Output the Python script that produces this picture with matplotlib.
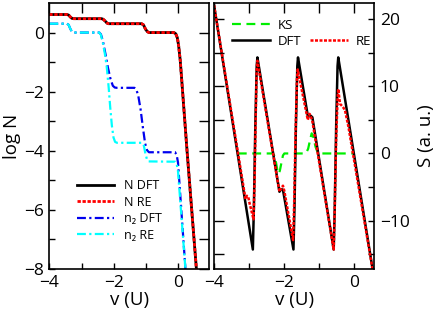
import matplotlib
matplotlib.use("Agg")
import matplotlib.pyplot as plt
from matplotlib.lines import Line2D

plt.rcParams['font.family'] = ['Open Sans', 'DejaVu Sans']

# ---------------- Left panel data: log N vs v (U) ----------------
N_v = [-4.0, -3.45, -3.40, -3.35, -3.30, -3.25, -2.38, -2.33, -2.27, -2.21, -2.16, -1.14,
       -1.08, -1.02, -0.96, -0.91, -0.14, -0.08, -0.03, 0.01, 0.06, 0.27, 0.56, 0.62]
N_dft = [0.61, 0.61, 0.59, 0.53, 0.48, 0.47, 0.47, 0.45, 0.39, 0.32, 0.30, 0.30,
         0.26, 0.12, 0.03, 0.0, 0.0, -0.04, -0.18, -0.45, -0.95, -4.0, -8.0, -8.8]
N_re = N_dft

n2_v_dft = [-4.0, -3.45, -3.40, -3.35, -3.30, -3.25, -2.45, -2.40, -2.34, -2.26, -2.18, -2.10,
            -2.03, -1.97, -1.90, -1.36, -1.30, -1.24, -1.17, -1.10, -1.03, -0.97, -0.91,
            -0.10, -0.05, -0.01, 0.22, 0.26]
n2_dft = [0.30, 0.30, 0.26, 0.13, 0.03, 0.0, 0.0, -0.06, -0.28, -0.72, -1.20, -1.58,
          -1.80, -1.86, -1.87, -1.87, -1.93, -2.15, -2.60, -3.20, -3.75, -3.98, -4.05,
          -4.05, -4.15, -4.40, -8.0, -8.6]

n2_v_re = [-4.0, -3.45, -3.40, -3.35, -3.30, -3.25, -2.45, -2.40, -2.34, -2.28, -2.22, -2.16,
           -2.11, -2.06, -2.01, -1.96, -1.90, -1.12, -1.07, -1.02, -0.97, -0.92,
           -0.10, -0.05, -0.01, 0.22, 0.26]
n2_re = [0.30, 0.30, 0.26, 0.13, 0.03, 0.0, 0.0, -0.08, -0.35, -0.70, -1.15, -1.85,
         -2.55, -3.15, -3.55, -3.70, -3.73, -3.73, -3.82, -4.10, -4.30, -4.36,
         -4.37, -4.45, -4.70, -8.0, -8.6]

# ---------------- Right panel data: S (a. u.) vs v (U) ----------------
S_v_dft = [-4.0, -2.89, -2.86, -2.82, -2.78, -2.76, -2.13, -2.08, -2.03, -1.73, -1.70, -1.66,
           -1.62, -1.60, -1.32, -1.26, -1.19, -0.58, -0.55, -0.51, -0.47, -0.45, 0.60]
S_dft = [22.1, -14.3, -8.0, 4.0, 13.0, 14.3, -5.7, -5.3, -5.4, -14.3, -8.0, 4.0,
         13.0, 14.3, 5.6, 5.7, 5.4, -14.3, -8.0, 4.0, 13.0, 14.3, -19.4]

S_v_re = [-4.0, -3.10, -3.06, -3.02, -2.98, -2.87, -2.84, -2.81, -2.78, -2.76, -2.13, -2.08,
          -2.03, -1.99, -1.74, -1.71, -1.67, -1.63, -1.61, -1.32, -1.27, -1.24, -1.19,
          -0.58, -0.55, -0.51, -0.47, -0.45, -0.40, -0.33, -0.26, -0.16, 0.60]
S_re = [22.1, -6.8, -6.3, -6.5, -7.5, -9.8, -4.0, 5.0, 12.5, 13.8, -5.7, -5.2,
        -4.8, -5.6, -12.9, -7.5, 3.0, 11.0, 12.5, 5.0, 5.9, 5.6, 4.8,
        -14.3, -8.0, 2.0, 8.0, 9.6, 7.4, 7.0, 6.5, 4.0, -19.4]

KS_v = [-3.32, -2.33, -2.28, -2.23, -2.19, -2.16, -2.12, -2.07, -2.03, -1.99, -1.41, -1.36,
        -1.31, -1.26, -1.21, -1.16, -1.10, -1.04, -0.98, 0.0]
KS = [0.0, 0.0, -0.3, -1.3, -2.5, -3.0, -2.6, -1.3, -0.3, 0.0, 0.0, 0.15,
      0.7, 1.9, 3.0, 2.4, 1.0, 0.2, 0.0, 0.0]

# ---------------- Figure ----------------
fig = plt.figure(figsize=(4.36, 3.20), dpi=100)
axL = fig.add_axes([49.3 / 436, 1 - 269 / 320, 160 / 436, 266 / 320])
axR = fig.add_axes([214 / 436, 1 - 269 / 320, 160.3 / 436, 266 / 320])

red = '#ff0000'
blue = '#0000ee'
cyan = '#00ffff'
green = '#00ee00'

# Left panel
axL.plot(N_v, N_dft, color='black', lw=2.0, label='N DFT')
axL.plot(N_v, N_re, color=red, lw=2.0, dashes=(1.2, 0.6), label='N RE')
axL.plot(n2_v_dft, n2_dft, color=blue, lw=1.6, dashes=(4, 1.5, 1, 1.5), label='n\u2082 DFT')
axL.plot(n2_v_re, n2_re, color=cyan, lw=1.6, dashes=(4, 1.5, 1, 1.5), label='n\u2082 RE')
axL.set_xlim(-4, 0.96)
axL.set_ylim(-8, 1.0)
axL.set_xticks([-4, -3, -2, -1, 0])
axL.set_xticklabels(['\u22124', '', '\u22122', '', '0'])
axL.set_yticks([-8, -7, -6, -5, -4, -3, -2, -1, 0])
axL.set_yticklabels(['\u22128', '', '\u22126', '', '\u22124', '', '\u22122', '', '0'])
axL.set_xlabel('v (U)', fontsize=13.5, labelpad=0)
axL.set_ylabel('log N', fontsize=13.5, labelpad=2)
axL.legend(loc='upper left', bbox_to_anchor=(0.12, 0.37), frameon=False, fontsize=9,
           handlelength=2.9, handletextpad=0.8, labelspacing=0.28, borderpad=0.2)

# Right panel
axR.plot(KS_v, KS, color=green, lw=1.6, dashes=(4, 2.5), label='KS')
axR.plot(S_v_dft, S_dft, color='black', lw=1.8, label='DFT')
axR.plot(S_v_re, S_re, color=red, lw=1.8, dashes=(1.2, 0.6), label='RE')
axR.set_xlim(-4, 0.58)
axR.set_ylim(-17.2, 22.4)
axR.set_xticks([-4, -3, -2, -1, 0])
axR.set_xticklabels(['\u22124', '', '\u22122', '', '0'])
axR.set_yticks([-15, -10, -5, 0, 5, 10, 15, 20])
axR.set_yticklabels(['', '\u221210', '', '0', '', '10', '', '20'])
axR.yaxis.tick_right()
axR.yaxis.set_label_position('right')
axR.set_xlabel('v (U)', fontsize=13.5, labelpad=0)
axR.set_ylabel('S (a. u.)', fontsize=13.5, labelpad=5)

hl = axR.get_legend_handles_labels()[0]
blank = Line2D([], [], color='none')
axR.legend(handles=[hl[0], hl[1], blank, hl[2]], labels=['KS', 'DFT', '', 'RE'],
           ncol=2, loc='upper left', bbox_to_anchor=(0.055, 0.975), frameon=False,
           fontsize=9.5, handlelength=2.9, handletextpad=0.6, labelspacing=0.2,
           columnspacing=0.6, borderpad=0.2)

for ax in (axL, axR):
    ax.tick_params(which='both', direction='in', top=True, bottom=True, left=True, right=True,
                   labelsize=12.5, width=1.0, pad=4)
    for sp in ax.spines.values():
        sp.set_linewidth(1.2)

# Tick lengths: labelled sides short, unlabelled sides long
def set_lengths(axis, l1, l2):
    for t in axis.get_major_ticks():
        t.tick1line.set_markersize(l1)
        t.tick2line.set_markersize(l2)

set_lengths(axL.xaxis, 4, 7)
set_lengths(axL.yaxis, 4, 7)
set_lengths(axR.xaxis, 4, 7)
set_lengths(axR.yaxis, 7, 4)

fig.savefig('out.png', dpi=100)
